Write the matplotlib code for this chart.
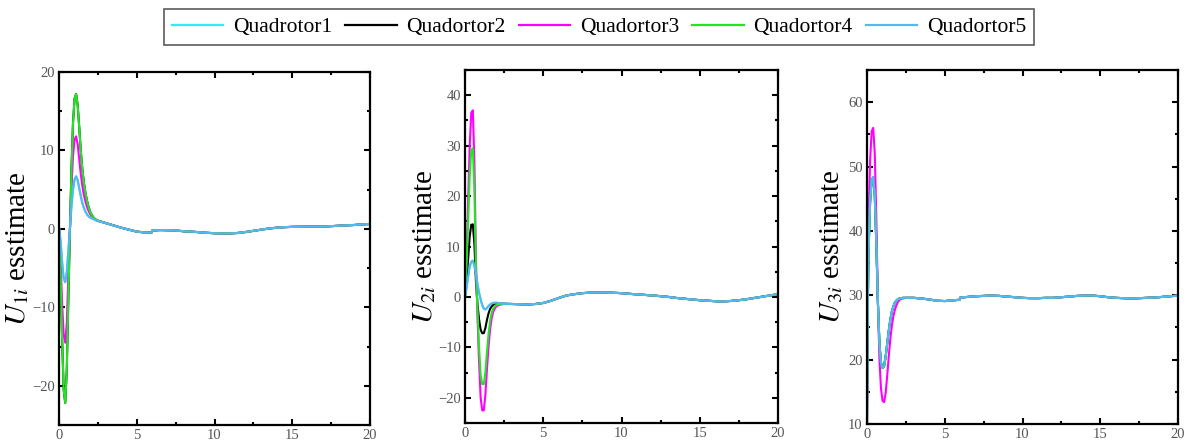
import matplotlib
matplotlib.use("Agg")
import matplotlib.pyplot as plt
from matplotlib.ticker import MultipleLocator
from matplotlib.lines import Line2D

plt.rcParams['font.family'] = ['Liberation Serif', 'DejaVu Serif']
plt.rcParams['mathtext.fontset'] = 'stix'

# ---------------- data ----------------
series_names = ["Quadrotor1", "Quadortor2", "Quadortor3", "Quadortor4", "Quadortor5"]
series_colors = ["#33EEF0", "#000000", "#FF00FF", "#22E622", "#55B8F2"]

t_early = [0.0, 0.1, 0.2, 0.3, 0.4, 0.5, 0.6, 0.7, 0.8, 0.9, 1.0, 1.1, 1.2,
           1.3, 1.4, 1.5, 1.6, 1.7, 1.8, 1.9, 2.0, 2.1, 2.2, 2.3, 2.4, 2.5]

# Panel 1 : U1
u1_green = [0, -6, -14, -20.5, -22.2, -18, -9, -0.5, 7.5, 13.5, 16.6, 17.2, 15.8,
            13, 10, 7.6, 5.9, 4.6, 3.6, 2.8, 2.2, 1.8, 1.5, 1.3, 1.15, 1.05]
u1_magenta = [0, -4, -9.5, -13.5, -14.5, -12, -6, -0.2, 5.2, 9.3, 11.4, 11.8, 10.8,
              8.9, 7, 5.5, 4.3, 3.5, 2.8, 2.3, 1.9, 1.6, 1.4, 1.25, 1.1, 1.02]
u1_lightblue = [0.2, -1.5, -4.2, -6.3, -6.8, -5.5, -2.8, 0, 2.8, 5, 6.3, 6.7, 6.2,
                5.2, 4.2, 3.3, 2.7, 2.2, 1.85, 1.6, 1.45, 1.35, 1.25, 1.15, 1.08, 1.0]
u1_t_tail = [3, 3.5, 4, 4.5, 5, 5.5, 5.95, 6.0, 6.5, 7, 7.5, 8, 8.5, 9, 9.5, 10, 10.5,
             11, 11.5, 12, 12.5, 13, 13.5, 14, 14.5, 15, 15.5, 16, 16.5, 17, 17.5,
             18, 18.5, 19, 19.5, 20]
u1_tail = [0.75, 0.45, 0.15, -0.1, -0.35, -0.45, -0.47, -0.2, -0.15, -0.17, -0.2, -0.3,
           -0.35, -0.42, -0.5, -0.55, -0.57, -0.57, -0.52, -0.4, -0.25, -0.1, 0.05, 0.15,
           0.22, 0.26, 0.28, 0.3, 0.3, 0.3, 0.35, 0.4, 0.45, 0.5, 0.57, 0.63]

# Panel 2 : U2
u2_magenta = [0, 8, 19, 30, 36.5, 37, 27, 7, -4, -13, -20, -22.5, -22.5,
              -19.5, -14.5, -10, -6.5, -4.3, -3, -2.3, -1.9, -1.7, -1.6, -1.5, -1.45, -1.4]
u2_green = [0, 6.5, 15, 24, 29, 29.5, 21.5, 5.5, -3, -10, -15.5, -17.3, -17.3,
            -15, -11, -7.5, -4.8, -3.2, -2.3, -1.8, -1.6, -1.5, -1.45, -1.4, -1.4, -1.4]
u2_black = [0, 3.5, 7.5, 12, 14.3, 14.4, 10.5, 3, -1.5, -4.5, -6.5, -7.2, -7.2,
            -6.2, -4.6, -3.3, -2.4, -1.9, -1.6, -1.45, -1.4, -1.35, -1.35, -1.35, -1.35, -1.35]
u2_lightblue = [0, 1.8, 4, 6, 7, 7.2, 6.2, 4.5, 2.5, 0.8, -0.5, -1.6, -2.3,
                -2.5, -2.2, -1.8, -1.5, -1.3, -1.2, -1.15, -1.15, -1.2, -1.25, -1.3, -1.35, -1.35]
u2_t_tail = [3, 3.5, 4, 4.5, 5, 5.5, 6, 6.5, 7, 7.5, 8, 8.5, 9, 9.5, 10, 10.5, 11,
             11.5, 12, 12.5, 13, 13.5, 14, 14.5, 15, 15.5, 16, 16.5, 17, 17.5, 18,
             18.5, 19, 19.5, 20]
u2_tail = [-1.4, -1.45, -1.5, -1.4, -1.2, -0.75, -0.2, 0.3, 0.55, 0.75, 0.85, 0.88, 0.88,
           0.82, 0.75, 0.62, 0.5, 0.4, 0.28, 0.15, 0, -0.2, -0.35, -0.5, -0.65, -0.75,
           -0.85, -0.88, -0.8, -0.65, -0.45, -0.2, 0.05, 0.3, 0.55]

# Panel 3 : U3
u3_t_early = [0.0, 0.05, 0.1, 0.2, 0.3, 0.4, 0.5, 0.6, 0.7, 0.8, 0.9, 1.0, 1.1, 1.2,
              1.3, 1.4, 1.5, 1.6, 1.7, 1.8, 1.9, 2.0, 2.1, 2.2, 2.3, 2.4, 2.5]
u3_magenta = [10, 30, 42, 51, 55.5, 56, 52, 42, 29, 20, 15.5, 13.6, 13.4, 14.8,
              17.5, 20.5, 23.2, 25.3, 26.8, 27.8, 28.5, 29, 29.3, 29.45, 29.5, 29.55, 29.6]
u3_lightblue = [10, 28, 37, 44.5, 48, 48.3, 45.5, 38, 29, 22.5, 19.5, 18.7, 19, 20.5,
                22.5, 24.5, 26.2, 27.5, 28.3, 28.9, 29.2, 29.4, 29.5, 29.55, 29.6, 29.6, 29.6]
u3_t_tail = [3, 3.5, 4, 4.5, 5, 5.5, 5.95, 6.0, 6.5, 7, 7.5, 8, 8.5, 9, 9.5, 10, 10.5,
             11, 11.5, 12, 12.5, 13, 13.5, 14, 14.5, 15, 15.5, 16, 16.5, 17, 17.5, 18,
             18.5, 19, 19.5, 20]
u3_tail = [29.6, 29.5, 29.35, 29.15, 29.1, 29.2, 29.3, 29.65, 29.75, 29.85, 29.9, 29.95,
           29.9, 29.8, 29.7, 29.6, 29.55, 29.55, 29.6, 29.6, 29.7, 29.8, 29.9, 29.95, 29.95,
           29.85, 29.7, 29.6, 29.55, 29.5, 29.55, 29.6, 29.65, 29.75, 29.85, 29.95]

x_ticks = [0, 5, 10, 15, 20]
panel_yticks = [[-20, -10, 0, 10, 20], [-20, -10, 0, 10, 20, 30, 40], [10, 20, 30, 40, 50, 60]]
panel_ylims = [(-25, 20), (-25, 45), (10, 65)]
panel_labels = [r'$U_{\mathit{1i}}$ esstimate', r'$U_{\mathit{2i}}$ esstimate',
                r'$U_{\mathit{3i}}$ esstimate']

# per panel: (time early, time tail, tail, [cyan, black, magenta, green, lightblue])
panels = [
    (t_early, u1_t_tail, u1_tail, [u1_lightblue, u1_green, u1_magenta, u1_green, u1_lightblue]),
    (t_early, u2_t_tail, u2_tail, [u2_lightblue, u2_black, u2_magenta, u2_green, u2_lightblue]),
    (u3_t_early, u3_t_tail, u3_tail, [u3_lightblue, u3_lightblue, u3_magenta, u3_lightblue, u3_lightblue]),
]

# ---------------- figure ----------------
fig = plt.figure(figsize=(11.87, 4.45), dpi=100)
positions = [
    [59 / 1187, 1 - 425 / 445, 311 / 1187, 353 / 445],
    [465 / 1187, 1 - 423 / 445, 313 / 1187, 353 / 445],
    [867 / 1187, 1 - 424 / 445, 311 / 1187, 354 / 445],
]
label_x = [-0.132, -0.128, -0.113]

for i, (te, tt, tail, vals) in enumerate(panels):
    ax = fig.add_axes(positions[i])
    for v, c in zip(vals, series_colors):
        ax.plot(list(te) + list(tt), list(v) + list(tail), color=c, lw=1.5,
                solid_joinstyle='round')
    ax.set_xlim(0, 20)
    ax.set_ylim(*panel_ylims[i])
    ax.set_xticks(x_ticks)
    ax.set_yticks(panel_yticks[i])
    ax.xaxis.set_minor_locator(MultipleLocator(2.5))
    ax.yaxis.set_minor_locator(MultipleLocator(5))
    ax.tick_params(which='both', direction='in', top=True, right=True,
                   width=1.5, colors='black', labelcolor='#555555', labelsize=10.5)
    ax.tick_params(which='major', length=4, pad=3)
    ax.tick_params(which='minor', length=2.5)
    for s in ax.spines.values():
        s.set_linewidth(1.6)
    ax.text(label_x[i], 0.5, panel_labels[i], rotation=90, ha='center', va='center',
            transform=ax.transAxes, fontsize=21)

handles = [Line2D([], [], color=c, lw=1.6) for c in series_colors]
leg = fig.legend(handles, series_names, loc='center', bbox_to_anchor=(599 / 1187, 1 - 27 / 445),
                 ncol=5, fontsize=15.5, frameon=True, fancybox=False, edgecolor='#333333',
                 handlelength=2.4, handletextpad=0.45, columnspacing=0.6, borderpad=0.35,
                 borderaxespad=0)
leg.get_frame().set_linewidth(1.2)

fig.savefig("out.png", dpi=100)
